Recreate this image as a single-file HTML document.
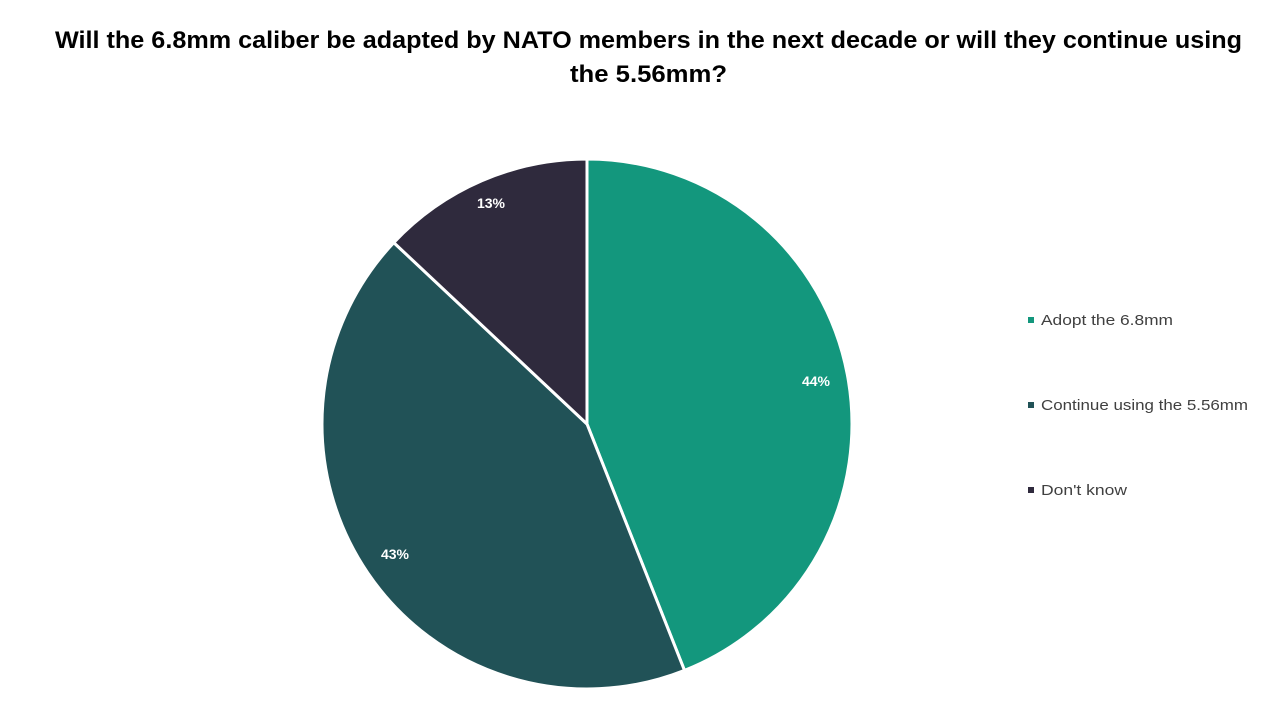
<!DOCTYPE html>
<html><head><meta charset="utf-8"><style>
body{margin:0;background:#fff;width:1280px;height:720px;overflow:hidden;font-family:"Liberation Sans",Arial,sans-serif}
</style></head><body>
<svg width="1280" height="720" xmlns="http://www.w3.org/2000/svg">
<text x="55" y="48" textLength="1187" lengthAdjust="spacingAndGlyphs" font-family="Liberation Sans,Arial,sans-serif" font-weight="bold" font-size="24" fill="#000">Will the 6.8mm caliber be adapted by NATO members in the next decade or will they continue using</text>
<text x="570" y="82" textLength="157" lengthAdjust="spacingAndGlyphs" font-family="Liberation Sans,Arial,sans-serif" font-weight="bold" font-size="24" fill="#000">the 5.56mm?</text>
<g stroke="#fff" stroke-width="3" stroke-linejoin="round">
<path d="M587,424 L587,159 A265,265 0 0 1 684.5,670.4 Z" fill="#13977D"/>
<path d="M587,424 L684.5,670.4 A265,265 0 0 1 393.8,242.6 Z" fill="#215257"/>
<path d="M587,424 L393.8,242.6 A265,265 0 0 1 587,159 Z" fill="#2F2A3D"/>
</g>
<g font-family="Liberation Sans,Arial,sans-serif" font-weight="bold" font-size="14" fill="#fff" text-anchor="middle">
<text x="816" y="386">44%</text>
<text x="395" y="559">43%</text>
<text x="491" y="208">13%</text>
</g>
<g font-family="Liberation Sans,Arial,sans-serif" font-size="15" fill="#404040">
<rect x="1028" y="317" width="6" height="6" fill="#13977D"/>
<text x="1041" y="325" textLength="132" lengthAdjust="spacingAndGlyphs">Adopt the 6.8mm</text>
<rect x="1028" y="402" width="6" height="6" fill="#215257"/>
<text x="1041" y="410" textLength="207" lengthAdjust="spacingAndGlyphs">Continue using the 5.56mm</text>
<rect x="1028" y="487" width="6" height="6" fill="#2F2A3D"/>
<text x="1041" y="495" textLength="86" lengthAdjust="spacingAndGlyphs">Don't know</text>
</g>
</svg>
</body></html>
